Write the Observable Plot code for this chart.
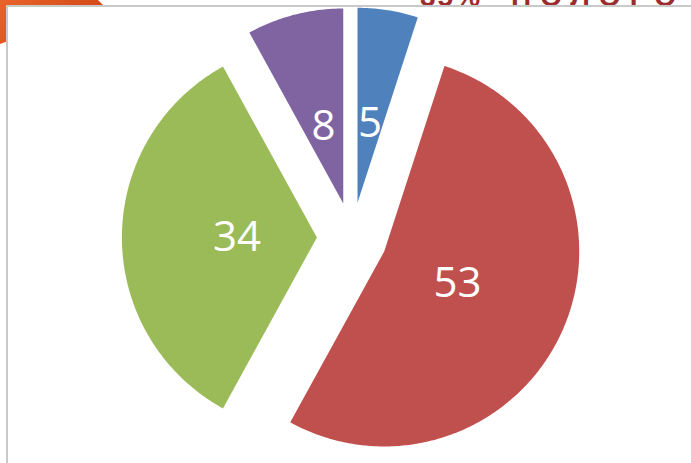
<!DOCTYPE html>
<html>
<head>
<meta charset="utf-8">
<script src="https://cdn.jsdelivr.net/npm/d3@7"></script>
<script src="https://cdn.jsdelivr.net/npm/@observablehq/plot@0.6"></script>
<style>
  html, body { margin: 0; padding: 0; background: #ffffff; }
  #stage { position: relative; width: 691px; height: 463px; overflow: hidden; background: #ffffff; }
  #corner { position: absolute; left: 0; top: 0; width: 110px; height: 48px;
    background: linear-gradient(135deg, #e8642a 0%, #d9501c 50%, #cf4418 100%);
    clip-path: polygon(0 0, 98px 0, 104px 6px, 0 44px); }
  .title { position: absolute; top: -17px; font: bold 28px "Liberation Sans", Arial, sans-serif;
    color: #9b2b2c; letter-spacing: 9px; white-space: nowrap; line-height: 28px; }
  #panel { position: absolute; left: 6px; top: 5px; width: 720px; height: 480px; background: #ffffff;
    border-left: 2px solid #c9c9c9; border-top: 2px solid #c9c9c9; }
  #chart { position: absolute; left: 0; top: 0; }
</style>
</head>
<body>
<div id="stage">
  <div id="corner"></div>
  <div class="title" style="left: 420px; letter-spacing: 2px;">35%</div>
  <div class="title" style="left: 511px;">ПОЛОГО</div>
  <div id="panel"></div>
  <div id="chart"></div>
</div>
<script>
// Data
const categories = ["1", "2", "3", "4"];
const values = [5, 53, 34, 8];
const colors = ["#4F81BD", "#C0504D", "#9BBB59", "#8064A2"];

// Layout (pixels)
const W = 691, H = 463;
const CX = 351.5, CY = 237, R = 195;
const EXPLODE = 0.18;      // in radius units
const LABEL_R = 0.41;      // label distance from slice apex, radius units

const total = d3.sum(values);
let acc = 0;
const slices = values.map((v, i) => {
  const a0 = acc / total * 2 * Math.PI;
  acc += v;
  const a1 = acc / total * 2 * Math.PI;
  const mid = (a0 + a1) / 2;
  const ox = EXPLODE * Math.sin(mid), oy = EXPLODE * Math.cos(mid);
  return {cat: categories[i], value: v, a0, a1, mid, ox, oy};
});

// polygon points for each slice (unit coordinates, y up, clockwise from top)
const pts = [];
for (const s of slices) {
  pts.push({cat: s.cat, x: s.ox, y: s.oy});
  const n = Math.max(2, Math.ceil((s.a1 - s.a0) / 0.01));
  for (let k = 0; k <= n; k++) {
    const a = s.a0 + (s.a1 - s.a0) * k / n;
    pts.push({cat: s.cat, x: s.ox + Math.sin(a), y: s.oy + Math.cos(a)});
  }
  pts.push({cat: s.cat, x: s.ox, y: s.oy});
}

const labels = slices.map(s => ({
  cat: s.cat, text: String(s.value),
  x: s.ox + LABEL_R * Math.sin(s.mid),
  y: s.oy + LABEL_R * Math.cos(s.mid)
}));

const plot = Plot.plot({
  width: W, height: H,
  margin: 0,
  style: {background: "transparent", overflow: "visible"},
  x: {domain: [-CX / R, (W - CX) / R], axis: null},
  y: {domain: [-(H - CY) / R, CY / R], axis: null},
  color: {domain: categories, range: colors},
  marks: [
    Plot.line(pts, {x: "x", y: "y", z: "cat", fill: "cat", stroke: "none", curve: "linear"}),
    Plot.text(labels, {x: "x", y: "y", text: "text", fill: "white", fontSize: 42,
      fontFamily: "'Open Sans', sans-serif"})
  ]
});
document.getElementById("chart").appendChild(plot);
</script>
</body>
</html>
